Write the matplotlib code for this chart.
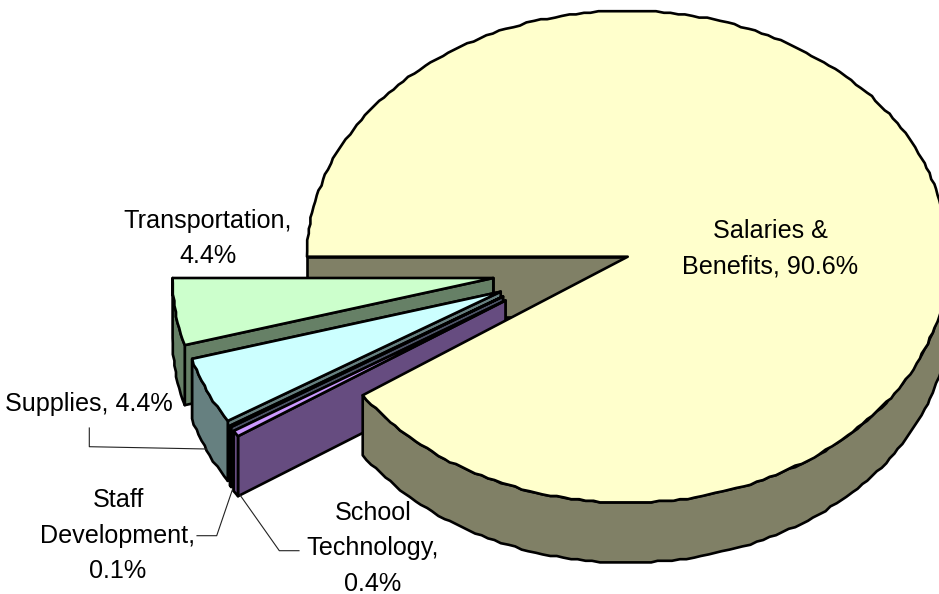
import numpy as np
import matplotlib
matplotlib.use("Agg")
import matplotlib.pyplot as plt
from matplotlib.patches import Polygon

# slices counter clockwise from the left edge of the pie
names = ["Transportation", "Supplies", "Staff Development", "School Technology", "Salaries & Benefits"]
values = [4.4, 4.4, 0.1, 0.4, 90.6]
top_colors = ["#CCFFCC", "#CCFFFF", "#99A6B3", "#CC99FF", "#FFFFCC"]
side_colors = ["#668066", "#668080", "#4C5366", "#664C80", "#808066"]

# where each slice apex sits after exploding, in pixels
apex_x = [493.3, 500.7, 503.0, 505.5, 627.7]
apex_y = [278.0, 291.7, 296.5, 300.5, 256.7]

rx = 320.7
ry = 246.0
depth = 60
grid = 1.6
line_w = 1.9

plt.rcParams['font.family'] = ['Liberation Sans', 'DejaVu Sans']

fig = plt.figure(figsize=(9.39, 5.94), dpi=100)
ax = fig.add_axes([0, 0, 1, 1])
ax.set_xlim(0, 939)
ax.set_ylim(594, 0)
ax.axis('off')


def arc(cx, cy, t0, t1):
    # rounded points give the rough outline of the original
    n = max(int(abs(t1 - t0) / 1.3), 1)
    t = np.radians(np.linspace(t0, t1, n + 1))
    x = cx + rx * np.cos(t)
    y = cy - ry * np.sin(t)
    x[1:-1] = np.round(x[1:-1] / grid) * grid
    y[1:-1] = np.round(y[1:-1] / grid) * grid
    return np.column_stack([x, y])


def poly(points, color):
    ax.add_patch(Polygon(points, closed=True, facecolor=color, edgecolor='black',
                         linewidth=line_w, joinstyle='round'))


def draw_slice(cx, cy, t0, t1, top, side):
    a = arc(cx, cy, t0, t1)
    # wall along the edge that faces the viewer
    e = a[0]
    poly([e, (cx, cy), (cx, cy + depth), (e[0], e[1] + depth)], side)
    e = a[-1]
    poly([e, (cx, cy), (cx, cy + depth), (e[0], e[1] + depth)], side)
    # rim, only the front half is seen
    r = arc(cx, cy, t0, t1)
    poly(np.vstack([r, (r + [0, depth])[::-1]]), side)
    poly(np.vstack([[(cx, cy)], a]), top)


angles = np.cumsum([0] + values) * 3.6 + 180

# back wall of the main pie, seen through the gap
cx, cy = apex_x[4], apex_y[4]
poly([(cx - rx, cy), (cx, cy), (cx, cy + depth), (cx - rx, cy + depth)], side_colors[4])

for i in range(4):
    draw_slice(apex_x[i], apex_y[i], angles[i], angles[i + 1], top_colors[i], side_colors[i])

# main slice goes last, it covers the tips of the others
t_start = angles[4] + 0.8
r = arc(cx, cy, t_start, 360)
poly(np.vstack([r, (r + [0, depth])[::-1]]), side_colors[4])
poly(np.vstack([[(cx, cy)], arc(cx, cy, t_start, 540)]), top_colors[4])

# leader lines
ax.plot([89.3, 89.3, 206.7], [428, 446.7, 449], color='#222222', lw=0.8)
ax.plot([197, 216.7, 232.3], [535.7, 535.7, 490], color='#222222', lw=0.8)
ax.plot([299, 279.3, 240], [550.7, 550.7, 495], color='#222222', lw=0.8)

fs = 18.1
ls = 1.58
ax.text(770, 249, "Salaries &\nBenefits, %.1f%%" % values[4], ha='center', va='center', fontsize=fs, linespacing=ls)
ax.text(208, 238.5, "Transportation,\n%.1f%%" % values[0], ha='center', va='center', fontsize=fs, linespacing=ls)
ax.text(89, 403.5, "Supplies, %.1f%%" % values[1], ha='center', va='center', fontsize=fs)
ax.text(118, 535.5, "Staff\nDevelopment,\n%.1f%%" % values[2], ha='center', va='center', fontsize=fs, linespacing=ls)
ax.text(373, 548.5, "School\nTechnology,\n%.1f%%" % values[3], ha='center', va='center', fontsize=fs, linespacing=ls)

plt.savefig("out.png", dpi=100)
